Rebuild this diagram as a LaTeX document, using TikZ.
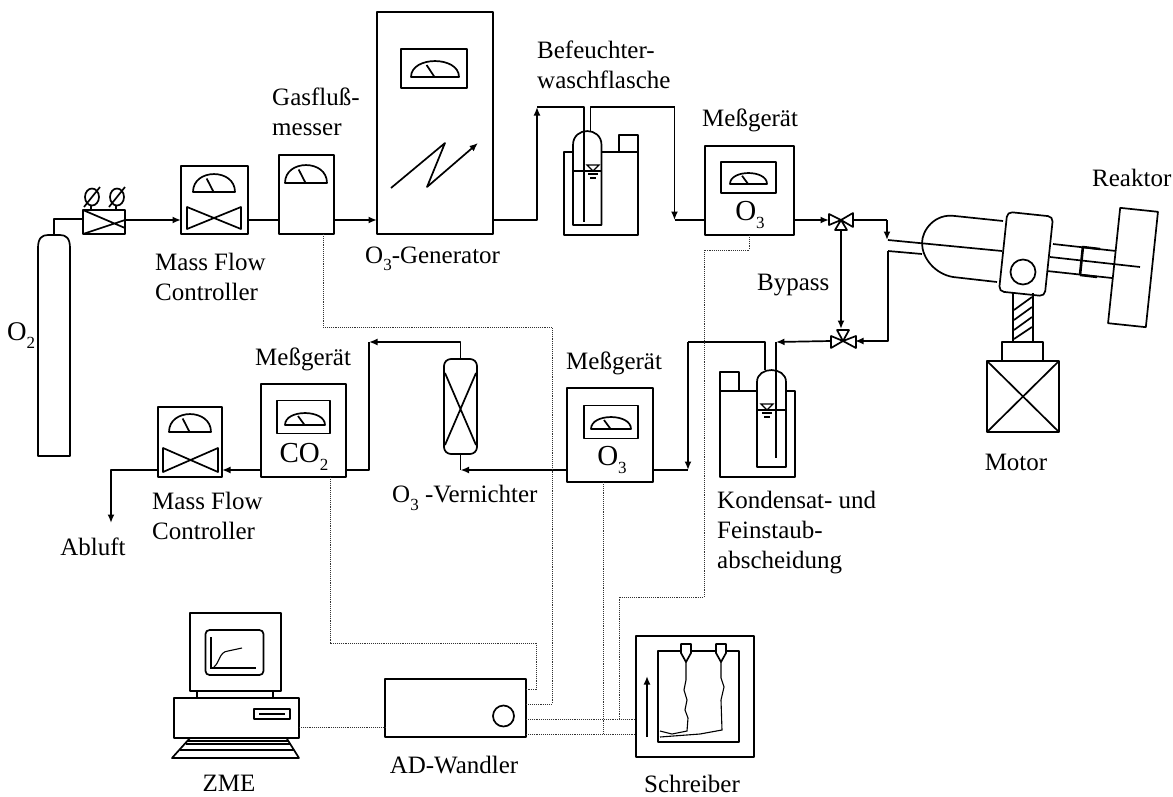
\documentclass[tikz,border=0pt]{standalone}
\usepackage{fontspec}
\setmainfont{Liberation Serif}
\usetikzlibrary{arrows.meta,calc}

\newcommand{\tief}[1]{\raisebox{-.3em}{\fontsize{17}{17}\selectfont #1}}
\newcommand{\zeiger}[4]{%
  \draw[pipe] ({#1-#3},#2) .. controls ({#1-#3},{#2-1.33*#4}) and ({#1+#3},{#2-1.33*#4}) .. ({#1+#3},#2) -- cycle;
  \draw[pipe] ({#1-.35*#3},{#2-.75*#4}) -- ({#1-.02*#3},#2);}
\newcommand{\flasche}[5]{%
  \draw[pipe] (#1,#5) -- (#1,#4) .. controls (#1,{#4-1.33*(#4-#3)}) and (#2,{#4-1.33*(#4-#3)}) .. (#2,#4) -- (#2,#5) -- cycle;}
\newcommand{\pegel}[2]{%
  \draw[fine] ({#1-6},{#2-6}) -- ({#1+6},{#2-6}) -- (#1,#2) -- cycle;
  \draw[fine] ({#1-5},{#2+3}) -- ({#1+5},{#2+3});
  \draw[fine] ({#1-3},{#2+7}) -- ({#1+3},{#2+7});}

\begin{document}
\begin{tikzpicture}[
  x=1pt,y=-1pt,
  pipe/.style={line width=1.7pt,line join=round},
  fine/.style={line width=1.1pt},
  pfeil/.style={-{Latex[length=8.5pt,width=7pt]}},
  signal/.style={line width=.9pt,densely dotted,black!80},
  geraet/.style={draw,pipe,rectangle,inner sep=0pt,outer sep=0pt},
  ventil/.style={rectangle,inner sep=0pt,outer sep=0pt,minimum width=24pt,minimum height=22pt},
  lbl/.style={inner sep=0pt,anchor=west,align=left,font=\fontsize{25}{30}\selectfont},
  zent/.style={inner sep=0pt,align=center,font=\fontsize{25}{30}\selectfont},
  gas/.style={inner sep=0pt,font=\fontsize{29}{30}\selectfont}
]
  \useasboundingbox (0,0) rectangle (1173,796);
  \coordinate (haupt) at (0,220);
  \coordinate (unten) at (0,470);

  % oberer Strang
  \node[inner sep=0pt,minimum width=32pt,minimum height=221pt] (flasche) at (54,345.5) {};
  \draw[pipe] (38,456) -- (38,248) .. controls (38,238) and (42,235) .. (48,235) -- (60,235)
    .. controls (66,235) and (70,238) .. (70,248) -- (70,456) -- cycle;
  \node[geraet,minimum width=42pt,minimum height=24pt] (druck) at (104,222) {};
  \draw[pipe] (druck.north west) -- (druck.south east |- 0,228) (druck.south west) -- (druck.north east |- 0,220);
  \draw[pipe] (92,197) ellipse (7pt and 8.5pt) (84,207) -- (100,187) (91,206) -- (91,210);
  \draw[pipe] (117,197) ellipse (7pt and 8.5pt) (109,207) -- (125,187) (116,206) -- (116,210);
  \node[geraet,minimum width=67pt,minimum height=68pt] (mfca) at (214.5,200) {};
  \zeiger{214}{192}{21}{18}
  \draw[pipe] (187,207) -- (241,229) -- (241,207) -- (187,229) -- cycle;
  \node[geraet,minimum width=55pt,minimum height=79pt] (gasmesser) at (306.5,194.5) {};
  \zeiger{306}{183}{21}{18}
  \node[geraet,minimum width=116pt,minimum height=222pt] (generator) at (435,123) {};
  \node[geraet,minimum width=66pt,minimum height=39pt] (anzeigeg) at (434,68.5) {};
  \zeiger{435}{77}{24}{16}
  \draw[pipe,pfeil] (391,188) -- (445,143) -- (427,187) -- (478,143);
  \node[geraet,minimum width=89pt,minimum height=89pt] (messa) at (749.5,190.5) {};
  \node[geraet,minimum width=55pt,minimum height=31pt] (anzeigea) at (748.5,177.5) {};
  \zeiger{748.5}{184}{18.5}{11}
  \node[gas] at (750,215) {O\tief{3}};

  % Befeuchter
  \flasche{573}{601.5}{131}{145}{225}
  \draw[pipe] (573,152) -- (564,152) -- (564,235) -- (638,235) -- (638,135) -- (619,135) -- (619,152) -- (601.5,152);
  \draw[pipe] (619,152) -- (638,152) (573,171) -- (601.5,171);
  \pegel{593}{171}
  \coordinate (befein) at (537,107);
  \coordinate (befrohr) at (584,222);
  \coordinate (befaus) at (590.5,131);
  \coordinate (befecke) at (674.5,107);
  \coordinate (befziel) at (674.5,220);

  % Ventile
  \node[ventil] (ventila) at (841,220) {};
  \draw[pipe] (829,214) -- (829,225) -- (841,220) -- cycle (853,213) -- (853,227) -- (841,220) -- cycle (841,220) -- (835,230) -- (847,230) -- cycle;
  \node[ventil] (ventilb) at (843,341) {};
  \draw[pipe] (831,336) -- (831,348) -- (843,341) -- cycle (856,336) -- (856,348) -- (843,341) -- cycle (843,341) -- (837,330) -- (849,330) -- cycle;
  \coordinate (ventilaunten) at (841,230);
  \coordinate (ventilboben) at (841,329);

  % Reaktor
  \node[geraet,rounded corners=5pt,rotate=-6,minimum width=46pt,minimum height=80pt] (kopf) at (1026,254) {};
  \node[geraet,rotate=-6,minimum width=38pt,minimum height=116pt] (reaktor) at (1133,267.5) {};
  \draw[pipe] (1003,221) -- (955,216) .. controls (935,213) and (922,230) .. (922,243)
    .. controls (922,258) and (935,274) .. (953,277) -- (997,282);
  \coordinate (einlass) at (888,240);
  \coordinate (auslass) at (888,251);
  \draw[pipe] (einlass) -- (1002,251);
  \draw[pipe] (auslass) -- (922,254);
  \draw[pipe] (1023,272) circle (12.5pt);
  \draw[pipe] (1053,244) -- (1116,251) (1047,271) -- (1112,278) (1050,257) -- (1140,267);
  \draw[line width=2.6pt] (1083,246) -- (1080,275);
  \draw[line width=2.4pt] (1083,247) -- (1100,249) (1080,275) -- (1097,277);
  \draw[pipe] (1013,293) -- (1013,343) (1033,293) -- (1033,343);
  \foreach \ya/\yb in {310/297,320/307,330/317,339/327}{
    \draw[pipe] (1014,\ya) -- (1032,\yb);
  }
  \node[geraet,minimum width=41pt,minimum height=19pt] (motorfuss) at (1022.5,351.5) {};
  \node[geraet,minimum width=72pt,minimum height=71pt] (motor) at (1023,396.5) {};
  \draw[pipe] (motor.north west) -- (motor.south east) (motor.north east) -- (motor.south west);

  % unterer Strang
  \node[geraet,minimum width=64pt,minimum height=70pt] (mfcb) at (190,442) {};
  \zeiger{190}{432}{21}{18}
  \draw[pipe] (163,448) -- (218,472) -- (218,448) -- (163,472) -- cycle;
  \node[geraet,minimum width=85pt,minimum height=93pt] (messc) at (303.5,430.5) {};
  \node[geraet,minimum width=53pt,minimum height=33pt] (anzeigec) at (303.5,417) {};
  \zeiger{305}{425}{20}{12}
  \node[gas] at (304,457) {CO\tief{2}};
  \node[geraet,rounded corners=7pt,minimum width=33pt,minimum height=95pt] (vernichter) at (460.5,406.5) {};
  \draw[pipe] (445,373) -- (476,445) (476,373) -- (445,445);
  \node[geraet,minimum width=86pt,minimum height=94pt] (messb) at (610,435) {};
  \node[geraet,minimum width=54pt,minimum height=33pt] (anzeigeb) at (611,422) {};
  \zeiger{611}{429}{20}{12}
  \node[gas] at (612,460) {O\tief{3}};

  % Kondensat
  \flasche{757}{786}{370}{382}{467}
  \draw[pipe] (757,391) -- (739,391) -- (739,372) -- (720,372) -- (720,477) -- (795,477) -- (795,391) -- (786,391);
  \draw[pipe] (720,391) -- (739,391) (757,410) -- (786,410);
  \pegel{767}{410}
  \coordinate (konrohr) at (776,458);
  \coordinate (konecke) at (776,342);
  \coordinate (konaus) at (765,370);
  \coordinate (ruecklauf) at (688,342);
  \coordinate (rueckziel) at (688,470);

  % Rechner, Wandler, Schreiber
  \node[geraet,minimum width=91pt,minimum height=78pt] (monitor) at (235.5,652) {};
  \node[geraet,rounded corners=4pt,minimum width=58pt,minimum height=45pt] (schirm) at (234.5,652.5) {};
  \draw[fine] (211,637) -- (211,668) -- (256,668);
  \draw[fine] (214,667) .. controls (220,662) and (219,652) .. (228,651) -- (242,648);
  \draw[pipe] (197,691) -- (197,698) (273,691) -- (273,698);
  \node[geraet,minimum width=125pt,minimum height=40pt] (rechner) at (236.5,718) {};
  \node[geraet,minimum width=36pt,minimum height=10pt] (laufwerk) at (272,714) {};
  \draw[pipe] (259,714) -- (285,714);
  \draw[pipe] (190,738) -- (286.5,738) -- (299,758) -- (172,758) -- cycle;
  \draw[fine] (188,741) -- (288,741) (186,744) -- (290,744) (180,750) -- (294,750);
  \node[geraet,minimum width=141pt,minimum height=58pt] (wandler) at (455.5,708) {};
  \draw[pipe] (503.5,716) circle (10.5pt);
  \node[geraet,minimum width=118pt,minimum height=121pt] (schreiber) at (695,696.5) {};
  \node[geraet,minimum width=81pt,minimum height=91pt] (papier) at (698.5,696.5) {};
  \draw[pipe,pfeil] (647,737) -- (647,676);
  \foreach \px in {686,721}{
    \draw[pipe,fill=white] (\px-5,644) -- (\px+5,644) -- (\px+5,653) -- (\px,662) -- (\px-5,653) -- cycle;
  }
  \draw[fine] (686,662) -- (686,680) -- (684,690) -- (687,700) -- (685,710) -- (688,718) -- (687,731) -- (672,734) -- (660,731);
  \draw[fine] (721,662) -- (721,678) -- (724,687) -- (721,700) -- (722,730) -- (700,734) -- (660,737);

  % Leitungen
  \draw[pipe] (flasche.north) |- (druck.west |- 0,219);
  \foreach \a/\b in {druck/mfca,gasmesser/generator}{
    \draw[pipe,pfeil] (\a.east |- haupt) -- (\b.west |- haupt);
  }
  \draw[pipe] (mfca.east |- haupt) -- (gasmesser.west |- haupt);
  \draw[pipe,pfeil] (generator.east |- haupt) -| (befein);
  \draw[pipe] (befein) -| (befrohr);
  \draw[pipe] (befaus) |- (befecke);
  \draw[pipe,pfeil] (befecke) -- (befziel);
  \draw[pipe] (befziel) -- (messa.west |- haupt);
  \draw[pipe,pfeil] (messa.east |- ventila) -- (ventila.west);
  \draw[pipe] (ventila.east) -| (853,220) -- (887,220);
  \draw[pipe,pfeil] (887,220) -- (einlass -| 887,0);
  \draw[pipe,pfeil] (ventilaunten) -- (ventilboben);
  \draw[pipe,pfeil] (auslass) |- (ventilb.east);
  \draw[pipe,pfeil] (ventilb.west) -- (konecke);
  \draw[pipe] (konecke) -- (konrohr);
  \draw[pipe] (konaus) |- (ruecklauf);
  \draw[pipe,pfeil] (ruecklauf) -- (rueckziel);
  \draw[pipe] (messb.east |- rueckziel) -- (rueckziel);
  \draw[pipe,pfeil] (messb.west |- unten) -- (vernichter.south |- unten);
  \draw[pipe] (vernichter.south |- unten) -- (vernichter.south);
  \coordinate (ecke) at (369,342);
  \draw[pipe,pfeil] (vernichter.north) |- (ecke);
  \draw[pipe] (ecke) |- (messc.east |- unten);
  \draw[pipe,pfeil] (messc.west |- unten) -- (mfcb.east |- unten);
  \coordinate (abgas) at (111,523);
  \draw[pipe,pfeil] (mfcb.west |- unten) -| (abgas);

  % Signale
  \draw[signal] ([xshift=16.5pt]gasmesser.south) |- (552,327) |- ([yshift=4pt]wandler.east);
  \draw[signal] ([xshift=26.5pt]messc.south) |- (536,643) |- ([yshift=19pt]wandler.east);
  \draw[signal] (messa.south) |- (704,250) |- (619,597) -- (619,719);
  \draw[signal] ([xshift=-7pt]messb.south) -- (603,734);
  \draw[signal] ([yshift=-11pt]wandler.east) -- (schreiber.west |- 0,719);
  \draw[signal] ([yshift=-26pt]wandler.east) -- (schreiber.west |- 0,734);
  \draw[signal] ([yshift=-9pt]rechner.east) -- (wandler.west |- 0,727);

  % Beschriftung
  \node[lbl,font=\fontsize{27}{30}\selectfont] (o2) at (7,336) {O\tief{2}};
  \node[lbl] (mfcatext) at (155,277) {Mass Flow\\Controller};
  \node[lbl] (gastext) at (272,112) {Gasfluß-\\messer};
  \node[lbl] (gentext) at (365,259) {O\tief{3}-Generator};
  \node[lbl] (beftext) at (537,65) {Befeuchter-\\waschflasche};
  \node[lbl] (messatext) at (702,120) {Meßgerät};
  \node[lbl] (reaktortext) at (1092,178) {Reaktor};
  \node[lbl] (bypass) at (757,285) {Bypass};
  \node[zent] (motortext) at (1016,462) {Motor};
  \node[lbl] (messctext) at (255,359) {Meßgerät};
  \node[lbl] (messbtext) at (566,363) {Meßgerät};
  \node[lbl] (vertext) at (392,498) {O\tief{3} -Vernichter};
  \node[lbl] (mfcbtext) at (152,516) {Mass Flow\\Controller};
  \node[zent] (abluft) at (93,547) {Abluft};
  \node[lbl] (kontext) at (717,533) {Kondensat- und\\Feinstaub-\\abscheidung};
  \node[zent] (zme) at (229,783.5) {ZME};
  \node[zent] (adtext) at (454,765) {AD-Wandler};
  \node[zent] (schtext) at (692,784) {Schreiber};
\end{tikzpicture}
\end{document}
